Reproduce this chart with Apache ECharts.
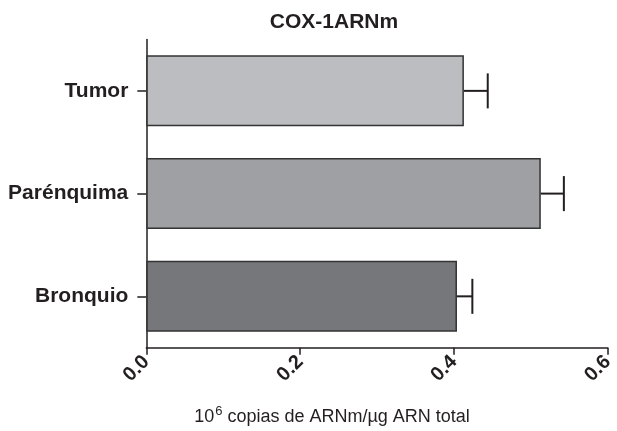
<!DOCTYPE html>
<html>
<head>
<meta charset="utf-8">
<script src="https://cdn.jsdelivr.net/npm/echarts@6/dist/echarts.min.js"></script>
<style>html,body{margin:0;padding:0;background:#fff;}#c{width:617px;height:431px;}</style>
</head>
<body>
<div id="c"></div>
<script>
const categories = ['Tumor', 'Parénquima', 'Bronquio'];
const means = [0.413, 0.513, 0.404];
const sems = [0.031, 0.030, 0.020];
const barColors = ['#bcbdc0', '#9fa0a3', '#76777a'];
const xTicks = [0, 0.2, 0.4, 0.6];

const FONT = "'Liberation Sans', Arial, Helvetica, sans-serif";
const INK = '#231f20';

const chart = echarts.init(document.getElementById('c'), null, {renderer: 'canvas'});
chart.setOption({
  backgroundColor: '#ffffff',
  animation: false,
  title: [
    {
      text: 'COX-1ARNm',
      left: 329, top: 7, textAlign: 'center',
      textStyle: {fontFamily: FONT, fontWeight: 'bold', fontSize: 21, color: INK}
    },
    {
      text: '{n|10}{s|6}{n| copias de ARNm/µg ARN total}',
      left: 327, top: 397, textAlign: 'center',
      textStyle: {
        fontFamily: FONT, fontSize: 18, fontWeight: 'normal', color: INK,
        rich: {
          n: {fontFamily: FONT, fontSize: 18, fontWeight: 'normal', color: INK, lineHeight: 24, verticalAlign: 'bottom'},
          s: {fontFamily: FONT, fontSize: 13, fontWeight: 'normal', color: INK, lineHeight: 24, verticalAlign: 'bottom', padding: [0, 0, 8, 1]}
        }
      }
    }
  ],
  grid: {left: 146.3, right: 9.3, top: 39.5, bottom: 83.3, containLabel: false},
  xAxis: {
    type: 'value',
    min: xTicks[0], max: xTicks[xTicks.length - 1], interval: 0.2,
    splitLine: {show: false},
    axisLine: {show: true, lineStyle: {color: INK, width: 1.5}},
    axisTick: {show: true, length: 7, lineStyle: {color: INK, width: 1.5}},
    axisLabel: {
      rotate: 45, margin: 11,
      fontFamily: FONT, fontWeight: 'bold', fontSize: 20, color: INK,
      formatter: v => v.toFixed(1)
    }
  },
  yAxis: {
    type: 'category', data: categories, inverse: true,
    axisLine: {show: true, lineStyle: {color: INK, width: 1.5}},
    axisTick: {show: true, length: 9, alignWithLabel: true, lineStyle: {color: INK, width: 1.5}},
    axisLabel: {margin: 18, fontFamily: FONT, fontWeight: 'bold', fontSize: 21, color: INK}
  },
  series: [
    {
      type: 'bar',
      barWidth: 71,
      data: means.map((v, i) => ({
        value: v,
        itemStyle: {color: barColors[i], borderColor: '#333333', borderWidth: 1.5}
      })),
      z: 2
    },
    {
      type: 'custom',
      z: 3,
      data: means.map((v, i) => [i, v, v + sems[i]]),
      encode: {x: [1, 2], y: 0},
      renderItem: function (params, api) {
        const cat = api.value(0);
        const start = api.coord([api.value(1), cat]);
        const end = api.coord([api.value(2), cat]);
        const half = 17.5;
        const style = {stroke: INK, lineWidth: 2};
        return {
          type: 'group',
          children: [
            {type: 'line', shape: {x1: start[0], y1: start[1], x2: end[0], y2: end[1]}, style: style},
            {type: 'line', shape: {x1: end[0], y1: end[1] - half, x2: end[0], y2: end[1] + half}, style: style}
          ]
        };
      }
    }
  ]
});
</script>
</body>
</html>
